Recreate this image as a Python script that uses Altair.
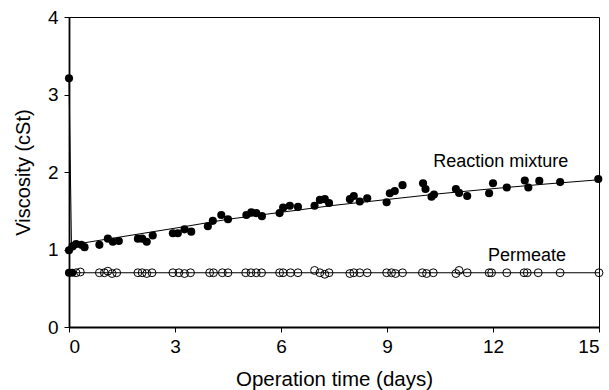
import altair as alt
import pandas as pd

# Reaction mixture (filled circles)
rx_day = [0, 0, 0.1, 0.2, 0.35, 0.44, 0.86, 1.1, 1.24, 1.41, 1.95, 2.07, 2.2, 2.37,
          2.94, 3.08, 3.27, 3.46, 3.93, 4.07, 4.31, 4.5, 5.02, 5.16, 5.3, 5.46,
          5.96, 6.06, 6.25, 6.48, 6.95, 7.1, 7.24, 7.36, 7.95, 8.06, 8.23, 8.44,
          8.99, 9.08, 9.22, 9.44, 10.02, 10.09, 10.26, 10.33, 10.95, 11.04, 11.27,
          11.89, 12.0, 12.39, 12.9, 13.0, 13.31, 13.9, 14.98,
          0, 0.09]
rx_visc = [3.21, 0.99, 1.04, 1.07, 1.06, 1.03, 1.06, 1.14, 1.10, 1.11, 1.14, 1.14, 1.10, 1.18,
           1.21, 1.21, 1.26, 1.23, 1.30, 1.37, 1.445, 1.39, 1.445, 1.48, 1.47, 1.43,
           1.47, 1.54, 1.565, 1.55, 1.565, 1.64, 1.65, 1.60, 1.65, 1.69, 1.62, 1.66,
           1.61, 1.725, 1.755, 1.83, 1.855, 1.78, 1.68, 1.71, 1.78, 1.73, 1.69,
           1.725, 1.855, 1.80, 1.89, 1.80, 1.885, 1.87, 1.91,
           0.70, 0.70]

# Permeate (open circles)
pm_day = [0.2, 0.32, 0.86, 1.0, 1.1, 1.22, 1.35, 1.95, 2.07, 2.2, 2.35, 2.94, 3.11, 3.27, 3.44,
          3.98, 4.09, 4.34, 4.5, 5.0, 5.15, 5.3, 5.45, 5.96, 6.06, 6.27, 6.48,
          6.95, 7.1, 7.24, 7.36, 7.95, 8.06, 8.23, 8.44, 8.99, 9.13, 9.24, 9.44,
          10.0, 10.12, 10.31, 10.95, 11.04, 11.27, 11.89, 11.96, 12.39, 12.88, 12.97,
          13.28, 13.9, 15.0]
pm_visc = [0.70, 0.71, 0.70, 0.70, 0.72, 0.69, 0.70, 0.70, 0.70, 0.69, 0.70, 0.70, 0.70, 0.69, 0.70,
           0.70, 0.70, 0.70, 0.70, 0.70, 0.70, 0.70, 0.70, 0.70, 0.70, 0.70, 0.70,
           0.73, 0.70, 0.68, 0.70, 0.69, 0.70, 0.70, 0.70, 0.70, 0.70, 0.69, 0.70,
           0.70, 0.69, 0.70, 0.69, 0.73, 0.70, 0.70, 0.70, 0.70, 0.70, 0.70,
           0.70, 0.70, 0.70]

# Trend lines (as drawn in the figure)
fit_rx_day = [0, 0.07, 1.5, 3, 4.5, 6, 7.5, 9, 10.5, 12, 13.5, 15]
fit_rx_visc = [3.21, 1.06, 1.165, 1.275, 1.39, 1.48, 1.57, 1.645, 1.72, 1.785, 1.845, 1.90]
fit_pm_day = [0, 15]
fit_pm_visc = [0.70, 0.70]

label_text = ["Reaction mixture", "Permeate"]
label_day = [12.22, 12.96]
label_visc = [2.13, 0.92]

x_ticks = [0, 3, 6, 9, 12, 15]
y_ticks = [0, 1, 2, 3, 4]

rx = pd.DataFrame({"day": rx_day, "visc": rx_visc})
pm = pd.DataFrame({"day": pm_day, "visc": pm_visc})
frx = pd.DataFrame({"day": fit_rx_day, "visc": fit_rx_visc, "o": range(len(fit_rx_day))})
fpm = pd.DataFrame({"day": fit_pm_day, "visc": fit_pm_visc})
lab = pd.DataFrame({"text": label_text, "day": label_day, "visc": label_visc})

FONT = "Liberation Sans"

xs = alt.X("day:Q", scale=alt.Scale(domain=[0, 15], nice=False),
           axis=alt.Axis(values=x_ticks, title="Operation time (days)", grid=False,
                         labelFontSize=19, titleFontSize=20.5, titleFontWeight="normal",
                         labelFont=FONT, titleFont=FONT, labelColor="black", titleColor="black",
                         domainColor="black", domainWidth=1.8, tickColor="black", tickWidth=1,
                         tickSize=5, labelPadding=5, titlePadding=13))
ys = alt.Y("visc:Q", scale=alt.Scale(domain=[0, 4], nice=False),
           axis=alt.Axis(values=y_ticks, title="Viscosity (cSt)", grid=False,
                         labelFontSize=19, titleFontSize=20, titleFontWeight="normal",
                         labelFont=FONT, titleFont=FONT, labelColor="black", titleColor="black",
                         domainColor="black", domainWidth=1.8, tickColor="black", tickWidth=1,
                         tickSize=5, labelPadding=6, titlePadding=14))

line_rx = alt.Chart(frx).mark_line(color="black", strokeWidth=1).encode(x=xs, y=ys, order="o:Q")
line_pm = alt.Chart(fpm).mark_line(color="black", strokeWidth=1).encode(x=xs, y=ys)
pts_rx = alt.Chart(rx).mark_point(filled=True, color="black", size=66, opacity=1, shape="circle").encode(x=xs, y=ys)
pts_pm = alt.Chart(pm).mark_point(filled=False, color="black", size=62, strokeWidth=1, opacity=1, shape="circle").encode(x=xs, y=ys)
labels = alt.Chart(lab).mark_text(font=FONT, fontSize=18, color="black").encode(x=xs, y=ys, text="text:N")

chart = alt.layer(line_rx, line_pm, pts_pm, pts_rx, labels).properties(
    width=530, height=310,
    autosize=alt.AutoSizeParams(type="none"),
    padding={"left": 69, "top": 17, "right": 10, "bottom": 63},
    background="white",
).configure_view(stroke="black", strokeWidth=1)

chart.save("out.html", embed_options={"renderer": "svg", "actions": False})
